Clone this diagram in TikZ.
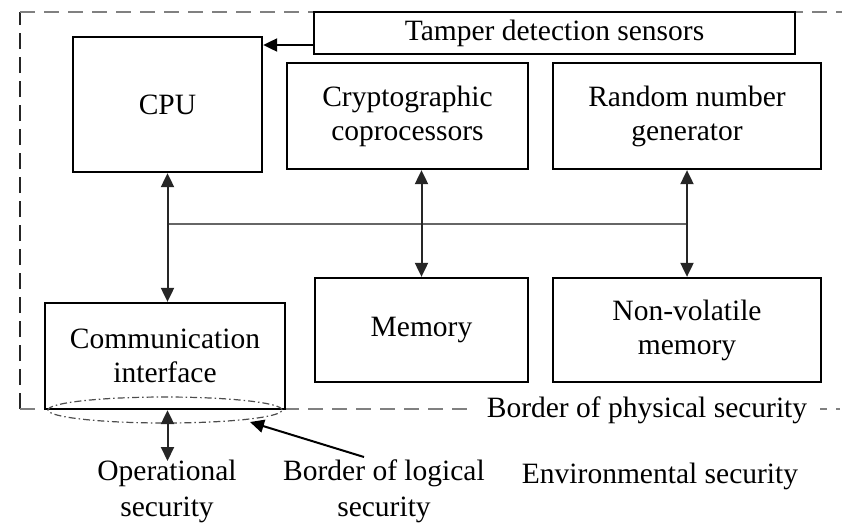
\documentclass[tikz,border=0pt]{standalone}
\usepackage{fontspec}
\setmainfont{Liberation Serif}
\usetikzlibrary{arrows.meta}
\begin{document}
\begin{tikzpicture}[x=1pt,y=-1pt,
  box/.style={draw=black, line width=2.3pt, align=center, inner sep=0pt,
    font=\fontsize{29.5}{34}\selectfont},
  lbl/.style={align=center, inner sep=0pt, font=\fontsize{29.5}{36}\selectfont},
  conn/.style={line width=2pt, black!85, {Triangle[length=14pt,width=13pt]}-{Triangle[length=14pt,width=13pt]}},
  arr/.style={line width=2pt, black, -{Triangle[length=14pt,width=13pt]}},
  bus/.style={line width=1.5pt, black!60},
  bordv/.style={line width=2.2pt, black!85, dash pattern=on 16pt off 8pt},
  bordh/.style={line width=2.2pt, black!50, dash pattern=on 15pt off 9pt},
  logb/.style={line width=1.2pt, black!70, dash pattern=on 7pt off 3pt on 1.5pt off 3pt},
]
\useasboundingbox (0,0) rectangle (842,523);

% border of physical security
\draw[bordv] (20,409) -- (20,12);
\draw[bordh] (20,12) -- (842,12);
\draw[bordh] (20,409) -- (840,409);
\node[lbl, fill=white, inner xsep=13pt, inner ysep=0pt] (phys) at (647,410) {Border of physical security};

% boxes
\node[box, fill=white, minimum width=481pt, minimum height=42pt] (tamper) at (554.5,33) {Tamper detection sensors};
\node[box, minimum width=189pt, minimum height=135pt] (cpu) at (167.5,104.5) {CPU};
\node[box, minimum width=241pt, minimum height=106pt] (crypto) at (407.5,116) {Cryptographic\\coprocessors};
\node[box, minimum width=268pt, minimum height=106pt] (rng) at (687,116) {Random number\\generator};
\node[box, minimum width=213pt, minimum height=104pt] (mem) at (421.5,330) {Memory};
\node[box, minimum width=268pt, minimum height=104pt] (nv) at (687,330) {Non-volatile\\memory};
\node[box, minimum width=240pt, minimum height=106pt] (comm) at (165,356) {Communication\\interface};

% border of logical security
\coordinate (ellc) at (165,410);
\draw[logb] (ellc) ellipse [x radius=117pt, y radius=13pt];

% bus and connectors
\coordinate (busy) at (0,224);
\draw[bus] (cpu.south |- busy) -- (nv.north |- busy);
\draw[conn] (cpu.south) -- (cpu.south |- comm.north);
\draw[conn] (mem.north |- crypto.south) -- (mem.north);
\draw[conn] (nv.north |- rng.south) -- (nv.north);

\coordinate (ta) at ([yshift=-12pt]tamper.west);
\draw[arr] (ta) -- (ta -| cpu.east);

% outside labels
\node[lbl] (oper) at (167,491) {Operational\\security};
\node[lbl] (logi) at (384,491) {Border of logical\\security};
\node[lbl] (env) at (660,476) {Environmental security};

\coordinate (opa) at (0,461);
\draw[conn] (cpu.south |- comm.south) -- (cpu.south |- opa);

\coordinate (la) at (364,457);
\coordinate (lb) at (250,422);
\draw[arr] (la) -- (lb);
\end{tikzpicture}
\end{document}
